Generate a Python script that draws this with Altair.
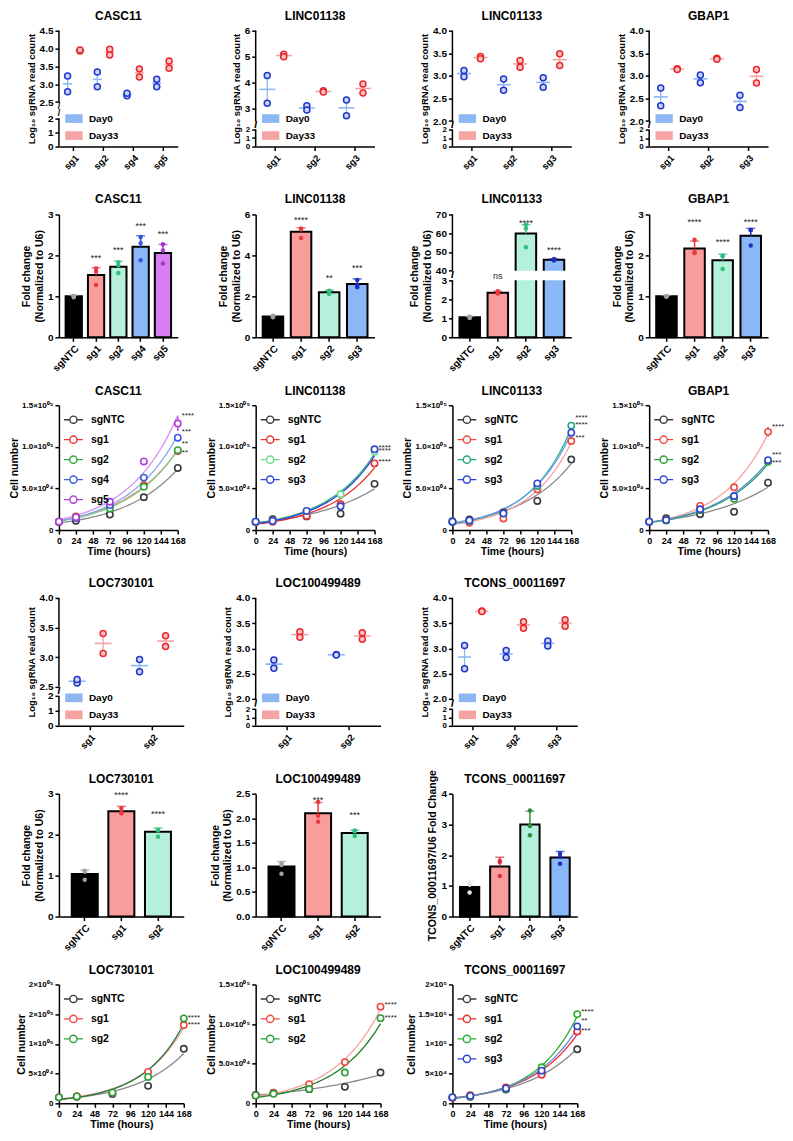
import altair as alt
import pandas as pd

FONT = "Liberation Sans"

# ============================ DATA ============================
DAYS = ["Day0", "Day33"]
TIMES = [0, 24, 72, 120, 168]
TIME_TICKS = [0, 24, 48, 72, 96, 120, 144, 168]

# ---- log10 sgRNA read counts (two replicates per day) ----
rc_casc11_guides = ["sg1", "sg2", "sg4", "sg5"]
rc_casc11_day0 = [[3.23, 2.79], [3.34, 2.93], [2.68, 2.75], [3.14, 2.93]]
rc_casc11_day33 = [[3.93, 3.96], [3.82, 3.98], [3.43, 3.20], [3.65, 3.45]]
rc_casc11_break = [0, 2, 2.5, 4.5]
rc_casc11_ticks = [0, 1, 2, 2.5, 3.0, 3.5, 4.0, 4.5]

rc_linc01138_guides = ["sg1", "sg2", "sg3"]
rc_linc01138_day0 = [[4.27, 3.20], [3.10, 2.94], [3.33, 2.72]]
rc_linc01138_day33 = [[5.09, 4.99], [3.68, 3.63], [3.94, 3.60]]
rc_linc01138_break = [0, 2, 2.5, 6]
rc_linc01138_ticks = [0, 1, 2, 3, 4, 5, 6]

rc_linc01133_guides = ["sg1", "sg2", "sg3"]
rc_linc01133_day0 = [[3.12, 2.98], [2.93, 2.68], [2.96, 2.75]]
rc_linc01133_day33 = [[3.43, 3.38], [3.34, 3.19], [3.49, 3.23]]
rc_linc01133_break = [0, 1.999, 2.0, 4.0]
rc_linc01133_ticks = [0, 1, 1.999, 2.0, 2.5, 3.0, 3.5, 4.0]

rc_gbap1_guides = ["sg1", "sg2", "sg3"]
rc_gbap1_day0 = [[2.73, 2.34], [3.02, 2.85], [2.57, 2.30]]
rc_gbap1_day33 = [[3.16, 3.14], [3.39, 3.37], [3.14, 2.84]]
rc_gbap1_break = [0, 1.999, 2.0, 4.0]
rc_gbap1_ticks = [0, 1, 1.999, 2.0, 2.5, 3.0, 3.5, 4.0]

rc_loc730101_guides = ["sg1", "sg2"]
rc_loc730101_day0 = [[2.56, 2.62], [2.96, 2.75]]
rc_loc730101_day33 = [[3.40, 3.06], [3.36, 3.18]]
rc_loc730101_break = [0, 2, 2.5, 4.0]
rc_loc730101_ticks = [0, 1, 2, 2.5, 3.0, 3.5, 4.0]

rc_loc100499489_guides = ["sg1", "sg2"]
rc_loc100499489_day0 = [[2.77, 2.61], [2.88, 2.87]]
rc_loc100499489_day33 = [[3.33, 3.22], [3.31, 3.18]]
rc_loc100499489_break = [0, 1.999, 2.0, 4.0]
rc_loc100499489_ticks = [0, 1, 1.999, 2.0, 2.5, 3.0, 3.5, 4.0]

rc_tcons_guides = ["sg1", "sg2", "sg3"]
rc_tcons_day0 = [[3.06, 2.60], [2.96, 2.82], [3.15, 3.05]]
rc_tcons_day33 = [[3.74, 3.73], [3.53, 3.40], [3.57, 3.44]]
rc_tcons_break = [0, 1.999, 2.0, 4.0]
rc_tcons_ticks = [0, 1, 1.999, 2.0, 2.5, 3.0, 3.5, 4.0]

# ---- fold change bars (mean, SD, replicates, significance) ----
fc_casc11_groups = ["sgNTC", "sg1", "sg2", "sg4", "sg5"]
fc_casc11_mean = [1.00, 1.52, 1.72, 2.21, 2.06]
fc_casc11_sd = [0.03, 0.18, 0.14, 0.27, 0.21]
fc_casc11_pts = [[1.00, 0.98, 1.01], [1.68, 1.60, 1.28], [1.83, 1.76, 1.57],
                 [2.45, 2.30, 1.88], [2.27, 2.12, 1.80]]
fc_casc11_sig = ["", "***", "***", "***", "***"]
fc_casc11_sig_level = [0, 1.94, 2.14, 2.73, 2.52]

fc_linc01138_groups = ["sgNTC", "sg1", "sg2", "sg3"]
fc_linc01138_mean = [1.02, 5.15, 2.20, 2.60]
fc_linc01138_sd = [0.05, 0.20, 0.10, 0.25]
fc_linc01138_pts = [[1.05, 1.00, 0.98], [5.30, 5.30, 4.85], [2.28, 2.20, 2.12], [2.80, 2.55, 2.45]]
fc_linc01138_sig = ["", "****", "**", "***"]
fc_linc01138_sig_level = [0, 5.72, 2.88, 3.37]

fc_linc01133_groups = ["sgNTC", "sg1", "sg2", "sg3"]
fc_linc01133_mean = [1.05, 2.35, 59.8, 45.8]
fc_linc01133_sd = [0.05, 0.08, 4.7, 0.5]
fc_linc01133_pts = [[1.05, 1.02, 1.08], [2.42, 2.33, 2.30], [62.5, 64.5, 52.5], [46.2, 45.5, 45.6]]
fc_linc01133_sig = ["", "ns", "****", "****"]
fc_linc01133_sig_level = [0, 20.0, 65.7, 51.1]
fc_linc01133_break = [0, 3, 40, 70]
fc_linc01133_ticks = [0, 1, 2, 3, 40, 50, 60, 70]

fc_gbap1_groups = ["sgNTC", "sg1", "sg2", "sg3"]
fc_gbap1_mean = [1.00, 2.17, 1.88, 2.48]
fc_gbap1_sd = [0.02, 0.18, 0.15, 0.18]
fc_gbap1_pts = [[1.00, 0.99, 1.01], [2.38, 2.08, 2.06], [1.98, 1.99, 1.67], [2.62, 2.62, 2.24]]
fc_gbap1_sig = ["", "****", "****", "****"]
fc_gbap1_sig_level = [0, 2.82, 2.33, 2.82]

fc_loc730101_groups = ["sgNTC", "sg1", "sg2"]
fc_loc730101_mean = [1.04, 2.57, 2.07]
fc_loc730101_sd = [0.09, 0.12, 0.09]
fc_loc730101_pts = [[1.10, 1.12, 0.90], [2.65, 2.52, 2.55], [2.12, 2.10, 1.95]]
fc_loc730101_sig = ["", "****", "****"]
fc_loc730101_sig_level = [0, 2.98, 2.51]

fc_loc100499489_groups = ["sgNTC", "sg1", "sg2"]
fc_loc100499489_mean = [1.02, 2.10, 1.70]
fc_loc100499489_sd = [0.10, 0.22, 0.06]
fc_loc100499489_pts = [[1.08, 1.05, 0.87], [2.33, 2.05, 1.93], [1.75, 1.73, 1.64]]
fc_loc100499489_sig = ["", "***", "***"]
fc_loc100499489_sig_level = [0, 2.37, 2.06]

fc_tcons_groups = ["sgNTC", "sg1", "sg2", "sg3"]
fc_tcons_mean = [0.96, 1.63, 3.00, 1.92]
fc_tcons_sd = [0.19, 0.30, 0.43, 0.20]
fc_tcons_pts = [[1.05, 1.05, 0.78], [1.81, 1.78, 1.32], [3.45, 2.95, 2.65], [2.05, 1.95, 1.72]]
fc_tcons_sig = ["", "", "", ""]
fc_tcons_sig_level = [0, 0, 0, 0]

# ---- growth curves (cell number, thousands) ----
gr_casc11_names = ["sgNTC", "sg1", "sg2", "sg4", "sg5"]
gr_casc11_vals = [[10, 11.2, 18.6, 39.4, 74.6], [10, 16.2, 27.8, 53.9, 94.9],
                  [10, 15.0, 26.0, 52.0, 96.0], [10, 14.5, 30.0, 63.0, 111.0],
                  [10, 15.5, 34.0, 82.4, 128.0]]
gr_casc11_err = [[0.5, 0.8, 1, 1.5, 3], [0.5, 1, 1, 1.5, 2.5], [0.5, 1, 1, 1.5, 2.5],
                 [0.5, 1, 1, 2, 2.5], [0.5, 1, 1.5, 3.5, 9]]
gr_casc11_sig = ["", "**", "**", "***", "****"]
gr_casc11_sig_level = [0, 93, 103, 118, 137.5]

gr_linc01138_names = ["sgNTC", "sg1", "sg2", "sg3"]
gr_linc01138_vals = [[10, 13, 16.4, 19.7, 55.5], [9.5, 10, 17, 31, 80],
                     [10, 11, 22.7, 43, 94], [10, 11, 23, 28.5, 97]]
gr_linc01138_err = [[0.5, 0.8, 0.8, 1, 4], [0.5, 0.5, 0.8, 2, 3], [0.5, 0.5, 1, 2, 2], [0.5, 0.5, 1, 1.5, 2]]
gr_linc01138_sig = ["", "****", "****", "****"]
gr_linc01138_sig_level = [0, 81.5, 95.4, 98.3]

gr_linc01133_names = ["sgNTC", "sg1", "sg2", "sg3"]
gr_linc01133_vals = [[10.5, 12.6, 21.5, 35, 84.7], [10, 8.8, 13.9, 48.9, 107],
                     [10, 11, 20, 53, 125.5], [10, 11.5, 20, 56, 117]]
gr_linc01133_err = [[0.5, 1, 1, 1, 3], [0.5, 0.5, 1, 1.5, 2], [0.5, 0.5, 1, 2, 4], [0.5, 0.5, 1, 2, 2]]
gr_linc01133_sig = ["", "***", "****", "****"]
gr_linc01133_sig_level = [0, 110, 134.8, 126.8]

gr_gbap1_names = ["sgNTC", "sg1", "sg2", "sg3"]
gr_gbap1_vals = [[10, 14.3, 19, 21.9, 56.9], [10, 12, 29, 51.4, 118],
                 [10, 11.4, 24, 37.5, 82], [10, 12, 25, 40.9, 84]]
gr_gbap1_err = [[0.5, 1, 1, 1, 3.5], [0.5, 0.5, 1.5, 1.5, 6], [0.5, 0.5, 1, 1.5, 2], [0.5, 0.5, 1, 1.5, 2]]
gr_gbap1_sig = ["", "****", "***", "***"]
gr_gbap1_sig_level = [0, 124.3, 81, 90]

gr_loc730101_names = ["sgNTC", "sg1", "sg2"]
gr_loc730101_vals = [[10, 11, 15.6, 29.4, 91.7], [10, 12, 17.8, 52.8, 131.7], [10, 11.5, 18, 44.4, 142.8]]
gr_loc730101_err = [[0.5, 1, 1, 1.5, 2], [0.5, 1, 1, 4, 3], [0.5, 1, 1, 1.5, 6]]
gr_loc730101_sig = ["", "****", "****"]
gr_loc730101_sig_level = [0, 132.2, 144.4]

gr_loc100499489_names = ["sgNTC", "sg1", "sg2"]
gr_loc100499489_vals = [[10.4, 13.3, 17.9, 20.8, 38.8], [10, 13, 24.2, 52, 122], [10, 12, 18, 38.8, 107.5]]
gr_loc100499489_err = [[0.5, 1, 1, 1, 1.5], [0.5, 1, 1.5, 1.5, 4], [0.5, 1, 1, 1.5, 2]]
gr_loc100499489_sig = ["", "****", "****"]
gr_loc100499489_sig_level = [0, 124, 108]

gr_tcons_names = ["sgNTC", "sg1", "sg2", "sg3"]
gr_tcons_vals = [[9.9, 11, 23.2, 50.7, 91], [9.5, 13.8, 26.5, 48, 121],
                 [10, 12, 24, 60.6, 150], [10, 12.5, 25, 55, 129.5]]
gr_tcons_err = [[0.5, 1, 1, 1.5, 2], [0.5, 1, 1.5, 1.5, 3], [0.5, 1, 1, 2, 2], [0.5, 1, 1, 1.5, 5]]
gr_tcons_sig = ["", "***", "****", "**"]
gr_tcons_sig_level = [0, 122.4, 154.4, 137.8]

# tick labels of the cell-number axes
cell_ticks_150 = [0, 50000, 100000, 150000]
cell_labels_150 = ["0", "5.0×10⁰⁴", "1.0×10⁰⁵", "1.5×10⁰⁵"]
cell_ticks_200 = [0, 50000, 100000, 150000, 200000]
cell_labels_loc730101 = ["0", "5×10⁰⁴", "1×10⁰⁵", "2×10⁰⁵", "2×10⁰⁵"]
cell_labels_tcons = ["0", "5×10⁴", "1×10⁵", "1.5×10⁵", "2×10⁵"]

# ============================ STYLE ============================
DAY_LIGHT = ["#8db7f2", "#f5a3a3"]
DAY_STROKE = ["#2236c9", "#e8282c"]
DAY_FILL = ["#c9d6f7", "#f7c4c4"]

BLACK, SALMON, MINT, LBLUE, ORCHID = "#000000", "#f99c9c", "#b4f0da", "#8ab8f6", "#d77ef2"
P_GRAY, P_RED, P_GREEN, P_BLUE, P_PURPLE, P_DBLUE = "#a0a0a0", "#e8393e", "#2fbf7f", "#3553d6", "#a636c9", "#1f2ec2"

RECT_SYMBOL = "M-1,-0.5H1V0.5H-1Z"
LINE_CIRCLE = "M-1,0H-0.38M0.38,0H1M-0.38,0A0.38,0.38,0,1,1,0.38,0A0.38,0.38,0,1,1,-0.38,0"


def title_of(text, dy=0):
    return alt.TitleParams(text, frame="group", anchor="middle", offset=3, dy=dy,
                           fontSize=12, fontWeight="bold", font=FONT)


def label_expr(vals, labels):
    expr = "''"
    for v, l in reversed(list(zip(vals, labels))):
        expr = f"datum.value == {v} ? '{l}' : ({expr})"
    return expr


def broken_axis_layers(brk, ys, yaxis):
    """Two axis segments and break marks, drawn through the panel's own y scale."""
    seg = pd.DataFrame({"y0": [brk[0], brk[2]], "y1": [brk[1], brk[3]]})
    rules = alt.Chart(seg).mark_rule(color="black", strokeWidth=1.5).encode(
        x=alt.value(0), y=alt.Y("y0:Q", scale=ys, axis=yaxis), y2="y1:Q")
    lo = alt.Chart(pd.DataFrame({"y0": [brk[1]]})).mark_text(
        text="/", fontSize=9, fontWeight="bold", baseline="bottom").encode(
        x=alt.value(0), y=alt.Y("y0:Q", scale=ys, axis=yaxis))
    hi = alt.Chart(pd.DataFrame({"y0": [brk[2]]})).mark_text(
        text="/", fontSize=9, fontWeight="bold", baseline="top").encode(
        x=alt.value(0), y=alt.Y("y0:Q", scale=ys, axis=yaxis))
    return [rules, lo, hi]


def readcount_panel(title, guides, day0, day33, brk, ticks, hi_fmt, width, height,
                    lo_frac, gap_frac, mean_size):
    rows = []
    for g, a, b in zip(guides, day0, day33):
        rows += [{"guide": g, "day": "Day0", "value": v} for v in a]
        rows += [{"guide": g, "day": "Day33", "value": v} for v in b]
    df = pd.DataFrame(rows)
    y_lo = height * (1 - lo_frac)
    y_hi = height * (1 - lo_frac - gap_frac)
    ys = alt.Scale(domain=brk, range=[height, y_lo, y_hi, 0], zero=False, nice=False)
    thr = (brk[1] + brk[2]) / 2
    lab = f"datum.value < {thr} ? format(round(datum.value), 'd') : format(datum.value, '{hi_fmt}')"
    small_lo = lo_frac < 0.2
    lab_size = {"condition": {"test": f"datum.value < {thr}", "value": 8}, "value": 10} if small_lo else 10
    yaxis = alt.Axis(values=ticks, labelExpr=lab, domain=False, title="Log₁₀ sgRNA read count",
                     titleFontSize=9.5, labelFontSize=lab_size, titlePadding=3, labelOverlap=False)
    x = alt.X("guide:N", sort=guides, scale=alt.Scale(type="band", paddingInner=0, paddingOuter=0),
              axis=alt.Axis(labelAngle=-45, title=None, labelFontSize=9.5, labelOverlap=False))
    xo = alt.XOffset("day:N", sort=DAYS, scale=alt.Scale(type="band", paddingInner=0, paddingOuter=0.2))
    leg = alt.Legend(title=None, orient="bottom-left", offset=6, symbolType=RECT_SYMBOL, symbolSize=300,
                     symbolStrokeWidth=0, labelFontSize=10, labelFontWeight="bold", rowPadding=3,
                     labelOffset=6)
    col = alt.Color("day:N", scale=alt.Scale(domain=DAYS, range=DAY_LIGHT), legend=leg)
    base = alt.Chart(df)
    err = base.mark_rule(strokeWidth=1.3).encode(
        x=x, xOffset=xo, y=alt.Y("min(value):Q", scale=ys, axis=yaxis), y2=alt.Y2("max(value)"), color=col)
    mean = base.mark_tick(thickness=1.6, size=mean_size).encode(
        x=x, xOffset=xo, y=alt.Y("mean(value):Q", scale=ys, axis=yaxis), color=col)
    pts = base.mark_point(filled=True, size=36, strokeWidth=1.5, opacity=1).encode(
        x=x, xOffset=xo, y=alt.Y("value:Q", scale=ys, axis=yaxis),
        fill=alt.Fill("day:N", scale=alt.Scale(domain=DAYS, range=DAY_FILL), legend=None),
        stroke=alt.Stroke("day:N", scale=alt.Scale(domain=DAYS, range=DAY_STROKE), legend=None))
    layers = [err, mean, pts] + broken_axis_layers(brk, ys, yaxis)
    return alt.layer(*layers).properties(width=width, height=height, title=title_of(title))


def bar_panel(title, groups, means, sds, pts, fills, pcols, sig, sig_level, ydom, ticks, yfmt,
              ytitle, width, height, pad_inner=0.27, pad_outer=0.25, brk=None, lo_frac=None,
              gap_frac=None, title_dy=0):
    bdf = pd.DataFrame({"g": groups, "m": means, "top": [a + b for a, b in zip(means, sds)],
                        "sig": sig, "lv": sig_level})
    pdf = pd.DataFrame([{"g": g, "v": v} for g, vs in zip(groups, pts) for v in vs])
    if brk:
        y_lo = height * (1 - lo_frac)
        y_hi = height * (1 - lo_frac - gap_frac)
        ys = alt.Scale(domain=brk, range=[height, y_lo, y_hi, 0], zero=False, nice=False)
    else:
        ys = alt.Scale(domain=ydom, nice=False)
    yaxis = alt.Axis(values=ticks, format=yfmt, title=ytitle, domain=not brk, titleFontSize=10.5,
                     labelFontSize=10, titlePadding=3, labelOverlap=False)
    x = alt.X("g:N", sort=groups, scale=alt.Scale(paddingInner=pad_inner, paddingOuter=pad_outer),
              axis=alt.Axis(labelAngle=-45, title=None, labelFontSize=10, labelOverlap=False))
    fill = alt.Fill("g:N", scale=alt.Scale(domain=groups, range=fills), legend=None)
    col = alt.Color("g:N", scale=alt.Scale(domain=groups, range=pcols), legend=None)
    bars = alt.Chart(bdf).mark_bar(stroke="black", strokeWidth=2).encode(
        x=x, y=alt.Y("m:Q", scale=ys, axis=yaxis), fill=fill)
    err = alt.Chart(bdf).mark_rule(strokeWidth=1.5).encode(
        x=x, y=alt.Y("m:Q", scale=ys, axis=yaxis), y2="top:Q", color=col)
    cap = alt.Chart(bdf).mark_tick(thickness=1.5, size=9).encode(
        x=x, y=alt.Y("top:Q", scale=ys, axis=yaxis), color=col)
    dots = alt.Chart(pdf).mark_circle(size=20, opacity=1).encode(
        x=x, y=alt.Y("v:Q", scale=ys, axis=yaxis), color=col)
    layers = [bars, err, cap, dots]
    if brk:
        gap = pd.DataFrame({"y0": [brk[1]], "y1": [brk[2]]})
        layers.append(alt.Chart(gap).mark_rect(color="white").encode(
            x=alt.value(0), x2=alt.value(width), y=alt.Y("y0:Q", scale=ys, axis=yaxis), y2="y1:Q"))
        layers += broken_axis_layers(brk, ys, yaxis)
    stars = alt.Chart(bdf).mark_text(fontSize=9, color="#222222", baseline="middle").encode(
        x=x, y=alt.Y("lv:Q", scale=ys, axis=yaxis), text="sig:N")
    layers.append(stars)
    return alt.layer(*layers).properties(width=width, height=height, title=title_of(title, title_dy))


def growth_panel(title, names, vals, errs, strokes, lines, sig, sig_level, ymax, yt_vals, yt_labels,
                 width, height):
    rows = []
    for s, vs, es in zip(names, vals, errs):
        for t, v, e in zip(TIMES, vs, es):
            rows.append({"s": s, "t": t, "v": v * 1000, "lo": (v - e) * 1000, "hi": (v + e) * 1000})
    df = pd.DataFrame(rows)
    sdf = pd.DataFrame({"s": names, "t": [TIMES[-1]] * len(names),
                        "lv": [l * 1000 for l in sig_level], "sig": sig})
    xs = alt.Scale(domain=[0, 168], nice=False, zero=False)
    ys = alt.Scale(domain=[0, ymax], nice=False)
    xaxis = alt.Axis(values=TIME_TICKS, title="Time (hours)", labelFontSize=9, titleFontSize=10.5,
                     titlePadding=1, labelOverlap=False, labelFlush=False)
    yaxis = alt.Axis(values=yt_vals, labelExpr=label_expr(yt_vals, yt_labels), title="Cell number",
                     labelFontSize=8, titleFontSize=10.5, titlePadding=2, labelOverlap=False)
    X = alt.X("t:Q", scale=xs, axis=xaxis)
    Y = alt.Y("v:Q", scale=ys, axis=yaxis)
    sc_pt = alt.Scale(domain=names, range=strokes)
    leg = alt.Legend(title=None, orient="top-left", offset=4, symbolType=LINE_CIRCLE, symbolSize=360,
                     symbolFillColor="white", symbolStrokeWidth=1.4, labelFontSize=10.5,
                     labelFontWeight="bold", rowPadding=3, labelOffset=7)
    err = alt.Chart(df).mark_rule(strokeWidth=1.4).encode(
        x=X, y=alt.Y("lo:Q", scale=ys, axis=yaxis), y2="hi:Q",
        color=alt.Color("s:N", scale=sc_pt, legend=leg))
    curves = []
    for s, c in zip(names, lines):
        curves.append(alt.Chart(df).transform_filter(alt.datum.s == s).transform_regression(
            "t", "v", method="exp").mark_line(strokeWidth=1.3, color=c).encode(x=X, y=Y))
    pts = alt.Chart(df).mark_point(shape="circle", filled=False, fill="white", fillOpacity=1, size=40,
                                   strokeWidth=1.6, opacity=1).encode(
        x=X, y=Y, color=alt.Color("s:N", scale=sc_pt, legend=leg))
    txt = alt.Chart(sdf).mark_text(align="left", dx=4, fontSize=8, baseline="middle", color="#222222").encode(
        x=X, y=alt.Y("lv:Q", scale=ys, axis=yaxis), text="sig:N")
    return alt.layer(err, *curves, pts, txt).properties(width=width, height=height, title=title_of(title))


def spacer():
    return alt.Chart(pd.DataFrame({"k": [0]})).mark_point(opacity=0).encode(
        x=alt.X("k:Q", axis=None), y=alt.Y("k:Q", axis=None)).properties(width=1, height=1)


# ============================ PANELS ============================
WA, WB = 119, 125
H1, H2, H3, H4, H5, H6 = 116, 123, 125, 128, 123, 119
FC_TITLE = ["Fold change", "(Normalized to U6)"]

row1 = [
    readcount_panel("CASC11", rc_casc11_guides, rc_casc11_day0, rc_casc11_day33, rc_casc11_break,
                    rc_casc11_ticks, ".1f", WA, H1, 0.244, 0.14, 9),
    readcount_panel("LINC01138", rc_linc01138_guides, rc_linc01138_day0, rc_linc01138_day33,
                    rc_linc01138_break, rc_linc01138_ticks, "d", WA, H1, 0.147, 0.07, 16),
    readcount_panel("LINC01133", rc_linc01133_guides, rc_linc01133_day0, rc_linc01133_day33,
                    rc_linc01133_break, rc_linc01133_ticks, ".1f", WA, H1, 0.146, 0.074, 14),
    readcount_panel("GBAP1", rc_gbap1_guides, rc_gbap1_day0, rc_gbap1_day33, rc_gbap1_break,
                    rc_gbap1_ticks, ".1f", WA, H1, 0.146, 0.074, 14),
]

row2 = [
    bar_panel("CASC11", fc_casc11_groups, fc_casc11_mean, fc_casc11_sd, fc_casc11_pts,
              [BLACK, SALMON, MINT, LBLUE, ORCHID], [P_GRAY, P_RED, P_GREEN, P_BLUE, P_PURPLE],
              fc_casc11_sig, fc_casc11_sig_level, [0, 3], [0, 1, 2, 3], "d", FC_TITLE, WA, H2,
              pad_inner=0.27, pad_outer=0.3),
    bar_panel("LINC01138", fc_linc01138_groups, fc_linc01138_mean, fc_linc01138_sd, fc_linc01138_pts,
              [BLACK, SALMON, MINT, LBLUE], [P_GRAY, P_RED, P_GREEN, P_DBLUE],
              fc_linc01138_sig, fc_linc01138_sig_level, [0, 6], [0, 2, 4, 6], "d", FC_TITLE, WA, H2),
    bar_panel("LINC01133", fc_linc01133_groups, fc_linc01133_mean, fc_linc01133_sd, fc_linc01133_pts,
              [BLACK, SALMON, MINT, LBLUE], [P_GRAY, P_RED, P_GREEN, P_DBLUE],
              fc_linc01133_sig, fc_linc01133_sig_level, None, fc_linc01133_ticks, "d", FC_TITLE, WA, H2,
              brk=fc_linc01133_break, lo_frac=0.464, gap_frac=0.0785),
    bar_panel("GBAP1", fc_gbap1_groups, fc_gbap1_mean, fc_gbap1_sd, fc_gbap1_pts,
              [BLACK, SALMON, MINT, LBLUE], [P_GRAY, P_RED, P_GREEN, P_DBLUE],
              fc_gbap1_sig, fc_gbap1_sig_level, [0, 3], [0, 1, 2, 3], "d", FC_TITLE, WA, H2),
]

row3 = [
    growth_panel("CASC11", gr_casc11_names, gr_casc11_vals, gr_casc11_err,
                 ["#3a3a3a", "#e8312f", "#35a845", "#3a5fe0", "#b23fd9"],
                 ["#8a8a8a", "#f3857f", "#7fcf7f", "#84a9f2", "#d393f2"],
                 gr_casc11_sig, gr_casc11_sig_level, 150000, cell_ticks_150, cell_labels_150, WA, H3),
    growth_panel("LINC01138", gr_linc01138_names, gr_linc01138_vals, gr_linc01138_err,
                 ["#3a3a3a", "#e8312f", "#6fdc8c", "#2f45d6"],
                 ["#8a8a8a", "#e8312f", "#2fb07a", "#2f45d6"],
                 gr_linc01138_sig, gr_linc01138_sig_level, 150000, cell_ticks_150, cell_labels_150, WA, H3),
    growth_panel("LINC01133", gr_linc01133_names, gr_linc01133_vals, gr_linc01133_err,
                 ["#3a3a3a", "#f0483f", "#22a582", "#2f45d6"],
                 ["#8a8a8a", "#f4a3a0", "#2ab08c", "#6f9cf0"],
                 gr_linc01133_sig, gr_linc01133_sig_level, 150000, cell_ticks_150, cell_labels_150, WA, H3),
    growth_panel("GBAP1", gr_gbap1_names, gr_gbap1_vals, gr_gbap1_err,
                 ["#3a3a3a", "#f0483f", "#2e9e3a", "#2f45d6"],
                 ["#8a8a8a", "#f4a3a0", "#2e9e6a", "#5a93c8"],
                 gr_gbap1_sig, gr_gbap1_sig_level, 150000, cell_ticks_150, cell_labels_150, WA, H3),
]

row4 = [
    readcount_panel("LOC730101", rc_loc730101_guides, rc_loc730101_day0, rc_loc730101_day33,
                    rc_loc730101_break, rc_loc730101_ticks, ".1f", WB, H4, 0.234, 0.073, 17),
    readcount_panel("LOC100499489", rc_loc100499489_guides, rc_loc100499489_day0, rc_loc100499489_day33,
                    rc_loc100499489_break, rc_loc100499489_ticks, ".1f", WB, H4, 0.13, 0.08, 17),
    readcount_panel("TCONS_00011697", rc_tcons_guides, rc_tcons_day0, rc_tcons_day33,
                    rc_tcons_break, rc_tcons_ticks, ".1f", WB, H4, 0.13, 0.08, 13),
    spacer(),
]

row5 = [
    bar_panel("LOC730101", fc_loc730101_groups, fc_loc730101_mean, fc_loc730101_sd, fc_loc730101_pts,
              [BLACK, SALMON, MINT], [P_GRAY, P_RED, P_GREEN],
              fc_loc730101_sig, fc_loc730101_sig_level, [0, 3], [0, 1, 2, 3], "d", FC_TITLE, WB, H5,
              pad_inner=0.29, pad_outer=0.35),
    bar_panel("LOC100499489", fc_loc100499489_groups, fc_loc100499489_mean, fc_loc100499489_sd,
              fc_loc100499489_pts, [BLACK, SALMON, MINT], [P_GRAY, P_RED, P_GREEN],
              fc_loc100499489_sig, fc_loc100499489_sig_level, [0, 2.5], [0, 0.5, 1.0, 1.5, 2.0, 2.5],
              ".1f", FC_TITLE, WB, H5, pad_inner=0.29, pad_outer=0.35),
    bar_panel("TCONS_00011697", fc_tcons_groups, fc_tcons_mean, fc_tcons_sd, fc_tcons_pts,
              [BLACK, SALMON, MINT, LBLUE], ["#e6e6e6", "#e02c36", "#2e8b3c", P_DBLUE],
              fc_tcons_sig, fc_tcons_sig_level, [0, 4], [0, 1, 2, 3, 4], "d",
              "TCONS_00011697/U6 Fold Change", WB, H5, pad_inner=0.36, pad_outer=0.25, title_dy=20),
    spacer(),
]

row6 = [
    growth_panel("LOC730101", gr_loc730101_names, gr_loc730101_vals, gr_loc730101_err,
                 ["#3a3a3a", "#f0483f", "#2e9e3a"], ["#8a8a8a", "#f4a3a0", "#1f7a3a"],
                 gr_loc730101_sig, gr_loc730101_sig_level, 200000, cell_ticks_200, cell_labels_loc730101, WB, H6),
    growth_panel("LOC100499489", gr_loc100499489_names, gr_loc100499489_vals, gr_loc100499489_err,
                 ["#3a3a3a", "#f0483f", "#2e9e3a"], ["#8a8a8a", "#f4a3a0", "#1f7a1f"],
                 gr_loc100499489_sig, gr_loc100499489_sig_level, 150000, cell_ticks_150, cell_labels_150, WB, H6),
    growth_panel("TCONS_00011697", gr_tcons_names, gr_tcons_vals, gr_tcons_err,
                 ["#3a3a3a", "#e8312f", "#2eae2e", "#2f45d6"], ["#8a8a8a", "#e8312f", "#2eae2e", "#6f84e0"],
                 gr_tcons_sig, gr_tcons_sig_level, 200000, cell_ticks_200, cell_labels_tcons, WB, H6),
    spacer(),
]

chart = alt.concat(*(row1 + row2 + row3 + row4 + row5 + row6), columns=4,
                   spacing={"row": 68, "column": 72}, bounds="flush").resolve_scale(
    x="independent", y="independent", xOffset="independent",
    color="independent", fill="independent", stroke="independent")

chart = chart.properties(padding={"left": 0, "top": 0, "right": 0, "bottom": 0}).configure(
    font=FONT
).configure_view(stroke="transparent").configure_axis(
    labelFont=FONT, labelFontWeight="bold", labelColor="black", titleFont=FONT, titleFontWeight="bold",
    titleColor="black", domainColor="black", domainWidth=1.5, tickColor="black", tickWidth=1.5,
    tickSize=4, grid=False, labelPadding=2
).configure_legend(labelFont=FONT, labelColor="black").configure_text(font=FONT)

chart.save("out.html", embed_options={"renderer": "svg", "actions": False})
